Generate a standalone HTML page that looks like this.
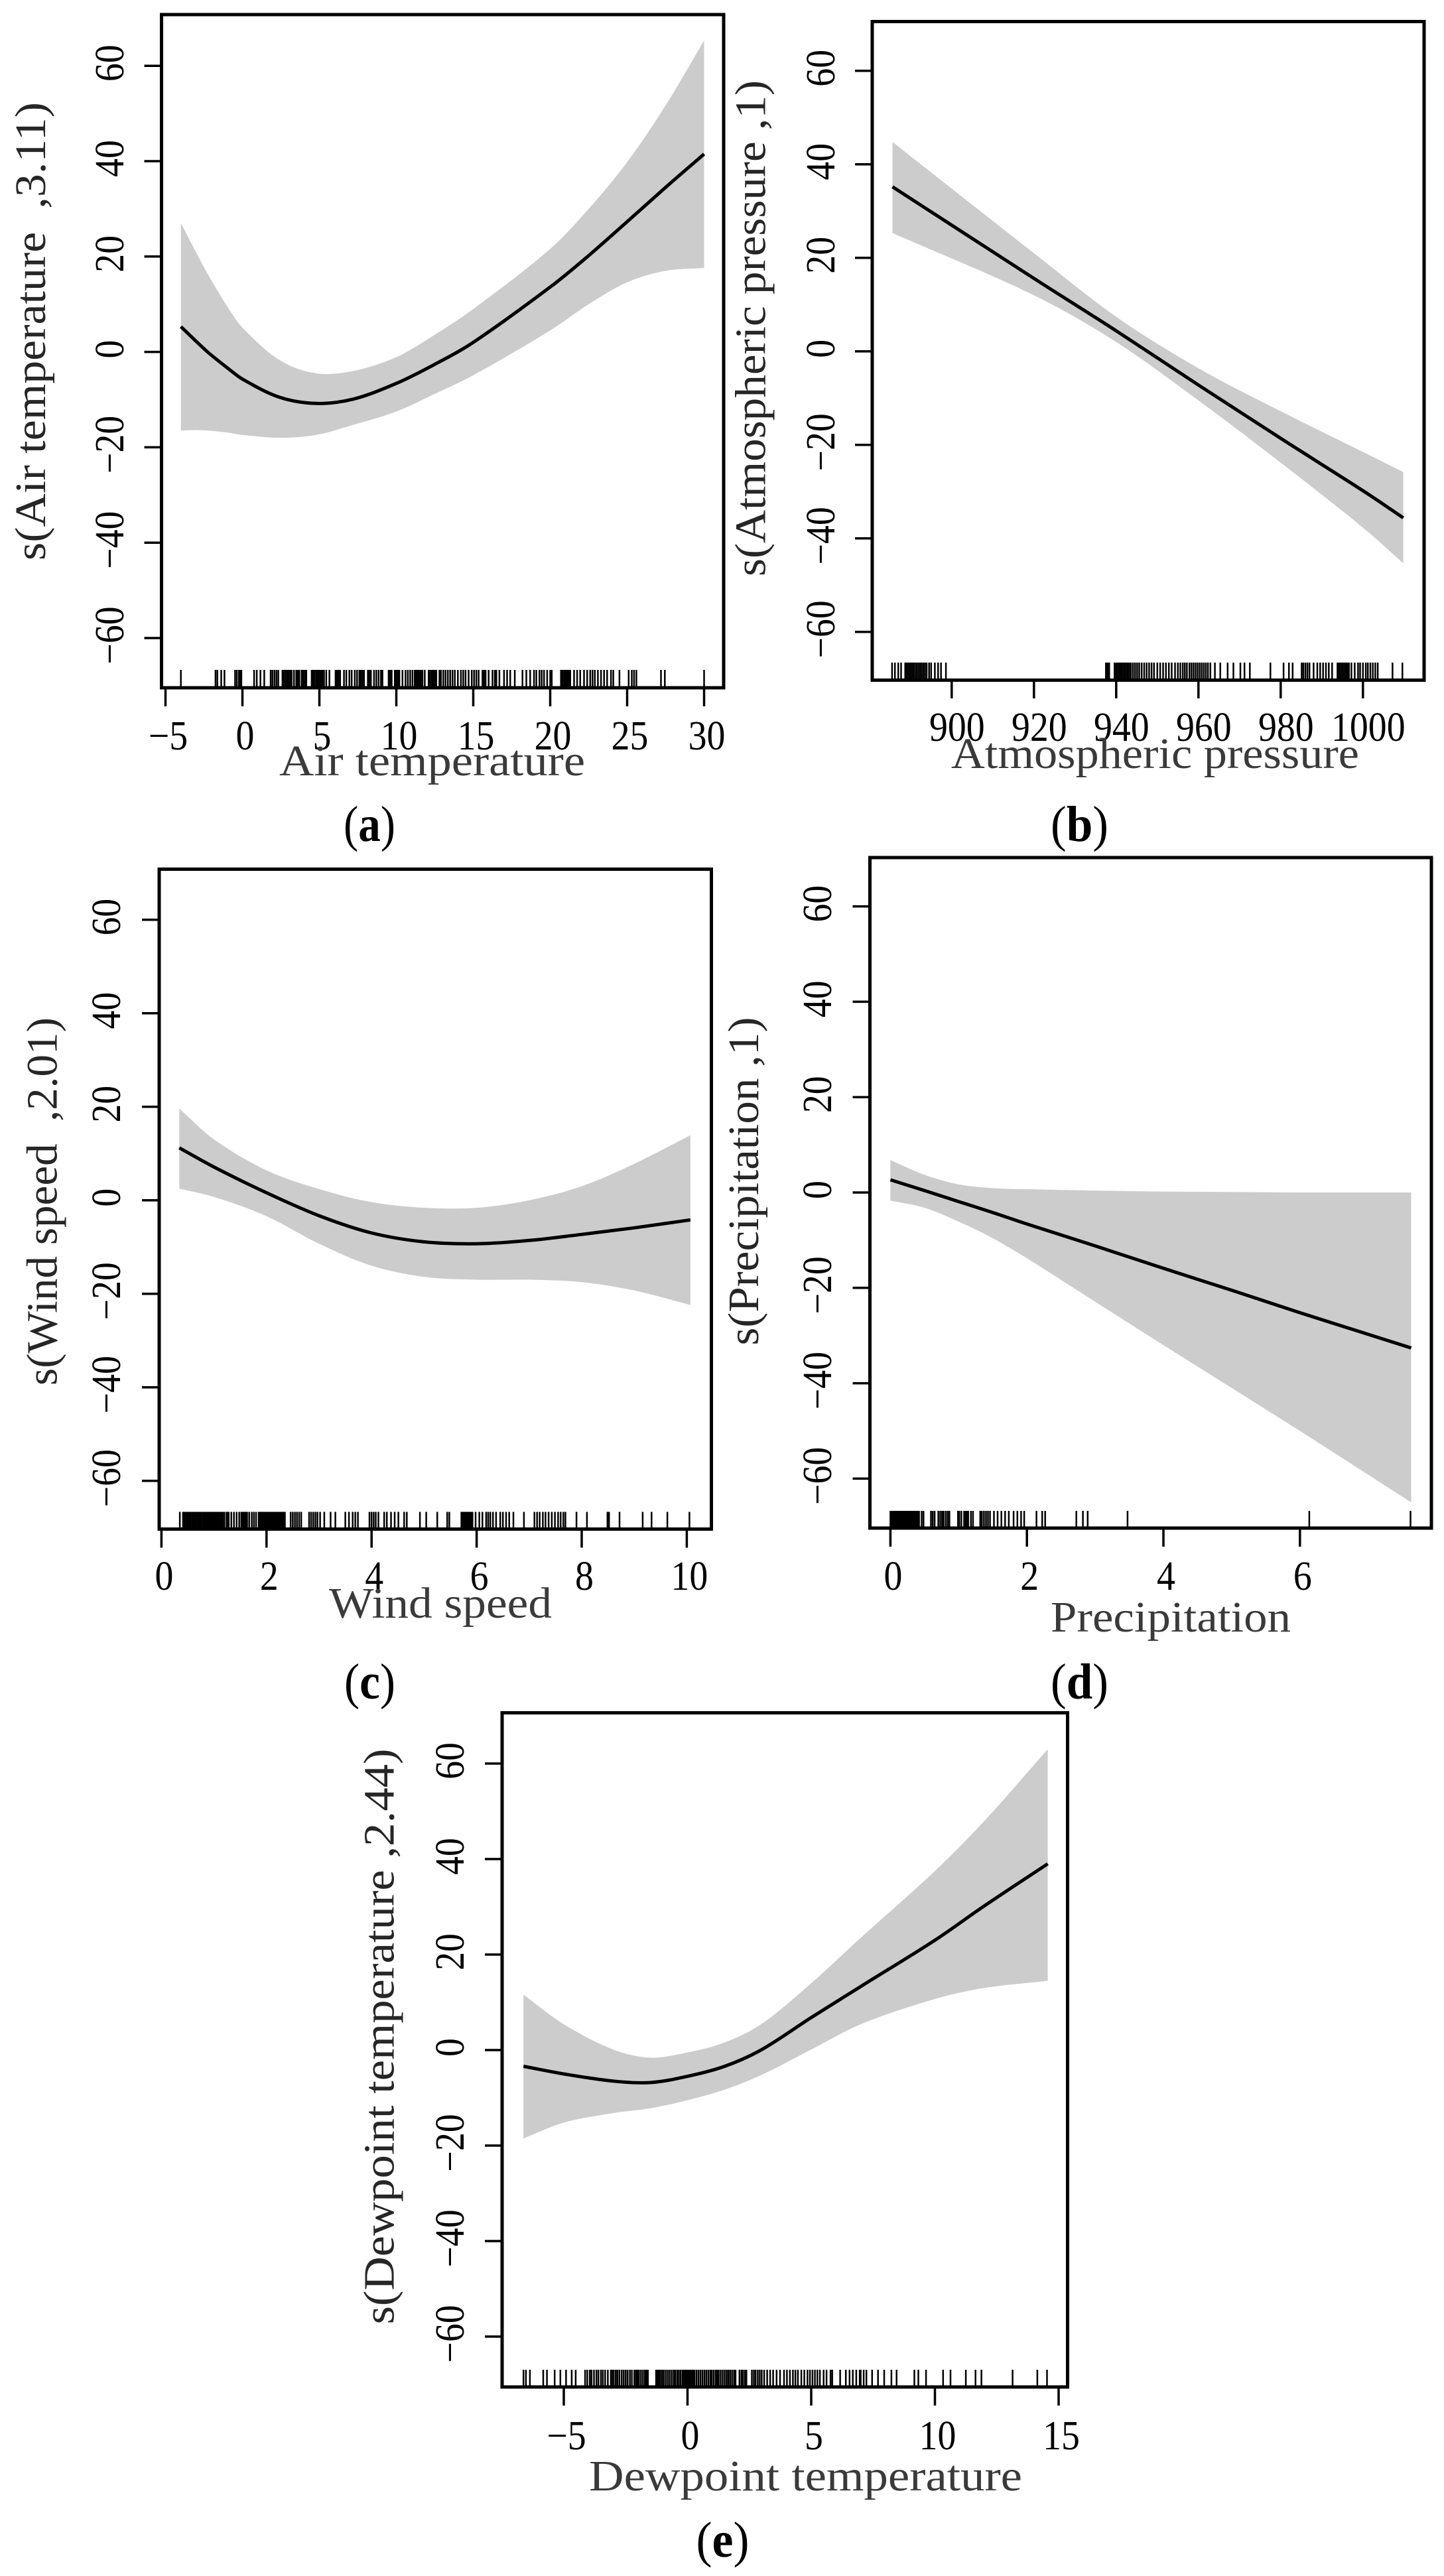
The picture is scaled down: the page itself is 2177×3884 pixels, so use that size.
<!DOCTYPE html>
<html lang="en">
<head>
<meta charset="utf-8">
<title>GAM smooth terms</title>
<style>
html,body{margin:0;padding:0;background:#fff;width:2177px;height:3884px;overflow:hidden}
svg{display:block}
text{font-family:"Liberation Serif","DejaVu Serif",serif}
.title{font-size:66px;fill:#3a3a3a}
.ytitle{font-size:66px;fill:#262626}
.cap{font-size:76px;fill:#000}
.tick-label{font-size:62px;fill:#000;text-anchor:middle}
</style>
</head>
<body>
<svg id="figure" xmlns="http://www.w3.org/2000/svg" width="2177" height="3884" viewBox="0 0 2177 3884">
<rect width="2177" height="3884" fill="#fff"/>

<g>
<g id="marks-a"></g>
<rect x="243.5" y="22" width="847.5" height="1015" fill="none" stroke="#000" stroke-width="5"/>
<text class="ytitle" transform="translate(68,845) rotate(-90)" textLength="691" lengthAdjust="spacingAndGlyphs">s(Air temperature&#160;&#160;,3.11)</text>
<text class="title" x="421" y="1169" textLength="461" lengthAdjust="spacingAndGlyphs">Air temperature</text>
<text class="cap" x="518" y="1268" textLength="78" lengthAdjust="spacingAndGlyphs">(<tspan font-weight="bold">a</tspan>)</text>
</g>

<g>
<g id="marks-b"></g>
<rect x="1315" y="32.5" width="832" height="993" fill="none" stroke="#000" stroke-width="5"/>
<text class="ytitle" transform="translate(1153.5,869) rotate(-90)" textLength="748" lengthAdjust="spacingAndGlyphs">s(Atmospheric pressure ,1)</text>
<text class="title" x="1434" y="1158" textLength="615" lengthAdjust="spacingAndGlyphs">Atmospheric pressure</text>
<text class="cap" x="1584" y="1268" textLength="87" lengthAdjust="spacingAndGlyphs">(<tspan font-weight="bold">b</tspan>)</text>
</g>

<g>
<g id="marks-c"></g>
<rect x="240" y="1310.5" width="832.5" height="995" fill="none" stroke="#000" stroke-width="5"/>
<text class="ytitle" transform="translate(85.5,2089) rotate(-90)" textLength="555" lengthAdjust="spacingAndGlyphs">s(Wind speed&#160;&#160;,2.01)</text>
<text class="title" x="496" y="2439" textLength="336" lengthAdjust="spacingAndGlyphs">Wind speed</text>
<text class="cap" x="519" y="2561" textLength="77" lengthAdjust="spacingAndGlyphs">(<tspan font-weight="bold">c</tspan>)</text>
</g>

<g>
<g id="marks-d"></g>
<rect x="1311.5" y="1293" width="846.5" height="1011" fill="none" stroke="#000" stroke-width="5"/>
<text class="ytitle" transform="translate(1143,2028.5) rotate(-90)" textLength="495" lengthAdjust="spacingAndGlyphs">s(Precipitation ,1)</text>
<text class="title" x="1584" y="2460" textLength="362" lengthAdjust="spacingAndGlyphs">Precipitation</text>
<text class="cap" x="1584" y="2561" textLength="87" lengthAdjust="spacingAndGlyphs">(<tspan font-weight="bold">d</tspan>)</text>
</g>

<g>
<g id="marks-e"></g>
<rect x="757" y="2582.5" width="852.5" height="1016.5" fill="none" stroke="#000" stroke-width="5"/>
<text class="ytitle" transform="translate(593.5,3504.5) rotate(-90)" textLength="868" lengthAdjust="spacingAndGlyphs">s(Dewpoint temperature ,2.44)</text>
<text class="title" x="888" y="3755" textLength="653" lengthAdjust="spacingAndGlyphs">Dewpoint temperature</text>
<text class="cap" x="1049.5" y="3855" textLength="80" lengthAdjust="spacingAndGlyphs">(<tspan font-weight="bold">e</tspan>)</text>
</g>
</svg>

<script>
// ---- shared tick labels
const yTickValues = [-60,-40,-20,0,20,40,60];

// ---- panel a: air temperature
const xTicksA = [-5,0,5,10,15,20,25,30];
const gridA = [-4,-3,-2.2,-1,0,2.4,4.8,7.2,10,12.5,15,20,22.5,25,27.5,30];
const fitA = [5.3,2.2,-0.2,-3.3,-5.7,-9.5,-10.8,-9.9,-6.6,-2.6,2,13.6,20.2,27.3,34.5,41.5];
const upperA = [27,20.8,16,9.6,5.1,-1.7,-4.5,-4,-1.1,3.6,9,21.6,30,39.8,51.7,65.3];
const lowerA = [-16.5,-16.4,-16.5,-16.9,-17.4,-18,-17.4,-15.3,-12.5,-8.8,-4.9,4.5,10,14.6,17,17.6];
const rugA = [-4,-1.75,-1.63,-1.38,-1.17,-0.48,-0.36,-0.23,-0.15,-0.07,0.76,0.93,1.17,1.42,1.83,1.95,2.08,2.21,2.33,2.6,2.7,2.8,2.9,3.0,3.1,3.2,3.35,3.5,3.6,3.7,3.85,3.95,4.05,4.15,4.5,4.6,4.7,4.8,4.9,5.0,5.1,5.2,5.3,5.45,5.65,6.05,6.15,6.25,6.35,6.6,6.75,6.95,7.1,7.3,7.45,7.6,7.7,7.8,7.9,8.15,8.25,8.35,8.55,8.7,8.85,9.0,9.1,9.5,9.6,9.7,9.9,10,10.1,10.2,10.4,10.6,10.75,10.9,11.05,11.2,11.3,11.4,11.5,11.6,11.7,11.85,12.1,12.2,12.3,12.4,12.5,12.6,12.8,12.9,13.05,13.2,13.35,13.5,13.65,13.8,14,14.2,14.35,14.5,14.7,14.9,15.05,15.2,15.35,15.6,15.7,15.8,16,16.25,16.4,16.5,16.7,17.0,17.2,17.4,17.7,18.2,18.45,18.7,18.95,19.1,19.3,19.45,19.6,19.8,20,20.1,20.7,20.8,20.9,21,21.1,21.2,21.3,21.55,21.75,21.95,22.2,22.4,22.6,22.75,22.9,23.1,23.3,23.5,23.7,23.95,24.1,24.5,25.1,25.3,25.45,25.6,27.2,27.45,30];

// ---- panel b: atmospheric pressure
const xTicksB = [900,920,940,960,980,1000];
const gridB = [885.6,920,940,960,980,1000,1009.8];
const fitB = [35.2,15.6,4.4,-7.2,-18.6,-29.8,-35.6];
const upperB = [44.8,21,7.4,-3.6,-12.8,-21.5,-25.8];
const lowerB = [25.3,12,2,-10.5,-23.8,-37.7,-45.3];
const rugB = [885.5,886.2,887,887.7,888.7,889.1,889.5,889.9,890.3,890.7,891.1,891.5,891.9,892.3,892.7,893.1,893.5,893.9,894.5,895,895.9,896.7,897.4,898.6,937.5,937.9,938.3,939.6,940,940.4,940.8,941.2,941.6,942,942.4,942.8,943.2,943.6,944.1,944.6,945.1,945.6,946.2,946.8,947.4,948,948.6,949.2,950,950.7,951.4,952.1,952.8,953.5,954.3,955,955.6,956.2,956.7,957.2,957.8,958.3,958.8,959.3,959.8,960.3,960.8,961.3,961.8,962.3,962.9,964,965.3,967.1,968.5,970.2,971.2,972.5,977.5,980.7,982,982.9,985.1,985.5,986,986.5,987,988,988.9,989.6,990.3,991,991.7,992.5,993.8,994.2,994.6,995,995.4,995.8,996.2,996.6,997.2,998,998.8,999.3,1000,1000.7,1001.2,1001.8,1002.4,1003,1003.6,1007.2,1009.6];

// ---- panel c: wind speed
const xTicksC = [0,2,4,6,8,10];
const gridC = [0.34,1,2,3,4,5,6,7,8,9,10.07];
const fitC = [11.2,7.1,1.6,-3.3,-7,-8.9,-9.3,-8.6,-7.3,-5.9,-4.2];
const upperC = [19.6,13,6.4,2.4,-0.4,-1.6,-1.6,0,3,7.8,13.9];
const lowerC = [2.5,0.7,-3.4,-9.3,-14,-16.4,-17,-17,-17.5,-19.3,-22.4];
const rugC = [0.35,0.41,0.43,0.44,0.47,0.49,0.51,0.53,0.55,0.58,0.6,0.62,0.64,0.66,0.69,0.71,0.73,0.75,0.77,0.8,0.83,0.85,0.87,0.9,0.92,0.94,0.97,0.99,1.01,1.03,1.05,1.07,1.09,1.11,1.13,1.15,1.17,1.2,1.24,1.26,1.28,1.33,1.38,1.43,1.48,1.52,1.55,1.57,1.59,1.61,1.63,1.67,1.72,1.76,1.8,1.85,1.87,1.89,1.91,1.93,1.95,1.97,1.99,2.01,2.03,2.05,2.07,2.09,2.11,2.13,2.15,2.17,2.2,2.22,2.24,2.27,2.29,2.31,2.33,2.35,2.46,2.5,2.54,2.58,2.62,2.66,2.81,2.85,2.89,2.93,2.97,3.02,3.1,3.22,3.31,3.5,3.57,3.64,3.69,3.74,3.96,4,4.04,4.08,4.13,4.24,4.29,4.37,4.44,4.51,4.62,4.67,4.92,5.04,5.25,5.44,5.48,5.71,5.73,5.75,5.78,5.8,5.82,5.84,5.86,5.88,5.9,5.92,5.98,6.05,6.11,6.18,6.22,6.26,6.31,6.37,6.45,6.5,6.56,6.62,6.7,6.9,7.1,7.15,7.2,7.26,7.31,7.37,7.43,7.49,7.55,7.6,7.65,7.69,7.9,8.1,8.49,8.52,8.72,9.16,9.33,9.63,10.05];

// ---- panel d: precipitation
const xTicksD = [0,2,4,6];
const gridD = [0,0.5,1,1.5,2,3,4,5,6,7.63];
const fitD = [2.65,0.4,-1.9,-4.2,-6.6,-11.2,-15.9,-20.5,-25.2,-32.6];
const upperD = [6.8,3.7,1.7,0.9,0.7,0.4,0.2,0.1,0,0];
const lowerD = [-1.7,-3.2,-6.1,-9.6,-13.8,-22.9,-32,-41,-50,-65];
const rugD = [0,0.02,0.04,0.06,0.08,0.1,0.12,0.14,0.16,0.18,0.2,0.22,0.24,0.26,0.28,0.3,0.32,0.34,0.36,0.38,0.4,0.42,0.458,0.485,0.594,0.62,0.648,0.702,0.73,0.757,0.78,0.811,0.84,0.865,0.99,1.01,1.04,1.08,1.1,1.12,1.14,1.18,1.21,1.316,1.34,1.37,1.4,1.43,1.46,1.517,1.57,1.626,1.68,1.735,1.805,1.86,1.914,1.96,2.14,2.224,2.267,2.724,2.82,2.89,3.474,6.137,7.62];

// ---- panel e: dewpoint temperature
const xTicksE = [-5,0,5,10,15];
const gridE = [-6.63,-5,-3,-1.5,0,1.5,3,5,7,10,12,14.56];
const fitE = [-3.4,-5,-6.5,-6.8,-5.5,-3.4,0.1,6.8,13.3,23,30.2,39];
const upperE = [11.6,5.4,0.1,-1.6,-0.5,1.6,5.5,14,23.5,37.5,48,63];
const lowerE = [-18.5,-15.2,-13.2,-12.2,-10.5,-8.3,-5.2,0.1,5.4,10.7,13,14.5];
const rugE = [-6.63,-6.53,-6.37,-5.83,-5.68,-5.37,-5.14,-4.91,-4.68,-4.52,-4.14,-4.05,-3.95,-3.88,-3.78,-3.68,-3.6,-3.5,-3.42,-3.33,-3.22,-3.1,-3.05,-2.98,-2.9,-2.83,-2.75,-2.66,-2.58,-2.5,-2.42,-2.33,-2.25,-2.15,-2.08,-2.02,-1.96,-1.88,-1.8,-1.72,-1.66,-1.6,-1.27,-1.22,-1.16,-1.1,-1.03,-0.96,-0.88,-0.8,-0.72,-0.64,-0.56,-0.5,-0.42,-0.35,-0.28,-0.2,-0.14,-0.08,-0.02,0.04,0.1,0.16,0.22,0.28,0.36,0.44,0.52,0.6,0.68,0.76,0.84,0.92,0.98,1.06,1.14,1.2,1.26,1.34,1.42,1.5,1.58,1.65,1.72,1.8,1.88,1.94,2.1,2.18,2.24,2.32,2.38,2.6,2.68,2.75,2.84,2.92,3.0,3.1,3.22,3.34,3.46,3.6,3.74,3.9,4.02,4.14,4.26,4.36,4.46,4.6,4.72,4.85,4.95,5.05,5.15,5.25,5.35,5.5,5.62,5.78,5.85,6.17,6.4,6.55,6.68,6.82,6.96,7.0,7.12,7.23,7.46,7.7,7.95,8.24,8.45,9.17,9.33,9.64,10.33,10.63,11.25,11.64,11.88,13.14,14.14,14.53];

// ---- axis layouts (pixel geometry only)
const layoutA = {key:'a',x0:365.5,xPer:23.2,y0:530.6,yPer:7.19,axisY:1037,axisX:243.5,rugLen:27,xLabelY:1130,yLabelX:186};
const layoutB = {key:'b',x0:1434.8,xPer:6.2,x0Value:900,y0:529.8,yPer:7.05,axisY:1025,axisX:1315,rugLen:26,xLabelY:1117,yLabelX:1258,xLabelShift:8};
const layoutC = {key:'c',x0:243.4,xPer:79.2,y0:1809.7,yPer:7.05,axisY:2305.5,axisX:240,rugLen:26,xLabelY:2397,yLabelX:181};
const layoutD = {key:'d',x0:1342.4,xPer:102.9,y0:1798,yPer:7.19,axisY:2304,axisX:1311.5,rugLen:26,xLabelY:2397,yLabelX:1253};
const layoutE = {key:'e',x0:1036.5,xPer:37.3,y0:3091,yPer:7.2,axisY:3599,axisX:757,rugLen:26,xLabelY:3693,yLabelX:699};

const SVG_NS = 'http://www.w3.org/2000/svg';

function curve(pts, move) {
  let d = (move ? 'M' : 'L') + pts[0][0].toFixed(1) + ' ' + pts[0][1].toFixed(1);
  for (let i = 0; i < pts.length - 1; i++) {
    const p0 = pts[Math.max(i - 1, 0)], p1 = pts[i], p2 = pts[i + 1], p3 = pts[Math.min(i + 2, pts.length - 1)];
    const m1 = (p2[1] - p0[1]) / (p2[0] - p0[0]);
    const m2 = (p3[1] - p1[1]) / (p3[0] - p1[0]);
    const h = (p2[0] - p1[0]) / 3;
    d += 'C' + (p1[0] + h).toFixed(1) + ' ' + (p1[1] + m1 * h).toFixed(1) + ' ' +
         (p2[0] - h).toFixed(1) + ' ' + (p2[1] - m2 * h).toFixed(1) + ' ' +
         p2[0].toFixed(1) + ' ' + p2[1].toFixed(1);
  }
  return d;
}

function drawPanel(layout, xTicks, yTicks, grid, fit, upper, lower, rug) {
  const root = document.getElementById('marks-' + layout.key);
  const base = layout.x0Value || 0;
  const sx = v => layout.x0 + (v - base) * layout.xPer;
  const sy = v => layout.y0 - v * layout.yPer;

  const upPts = grid.map((v, i) => [sx(v), sy(upper[i])]);
  const lowPts = grid.map((v, i) => [sx(v), sy(lower[i])]).reverse();
  const fitPts = grid.map((v, i) => [sx(v), sy(fit[i])]);

  const band = document.createElementNS(SVG_NS, 'path');
  
  
  band.setAttribute('d', curve(upPts, true) + curve(lowPts, false) + 'Z');
  band.setAttribute('fill', '#cccccc');
  root.appendChild(band);

  const line = document.createElementNS(SVG_NS, 'path');
  
  
  line.setAttribute('d', curve(fitPts, true));
  line.setAttribute('fill', 'none');
  line.setAttribute('stroke', '#000');
  line.setAttribute('stroke-width', '5');
  root.appendChild(line);

  rug.forEach(v => {
    const r = document.createElementNS(SVG_NS, 'line');
    
    
    r.setAttribute('x1', sx(v).toFixed(1));
    r.setAttribute('x2', sx(v).toFixed(1));
    r.setAttribute('y1', layout.axisY - layout.rugLen);
    r.setAttribute('y2', layout.axisY);
    r.setAttribute('stroke', '#000');
    r.setAttribute('stroke-width', '2.5');
    root.appendChild(r);
  });

  xTicks.forEach(v => {
    const t = document.createElementNS(SVG_NS, 'line');
    
    
    t.setAttribute('x1', sx(v).toFixed(1));
    t.setAttribute('x2', sx(v).toFixed(1));
    t.setAttribute('y1', layout.axisY);
    t.setAttribute('y2', layout.axisY + 28);
    t.setAttribute('stroke', '#000');
    t.setAttribute('stroke-width', '3.5');
    root.appendChild(t);

    const label = document.createElementNS(SVG_NS, 'text');
    
    
    label.setAttribute('class', 'tick-label');
    const shift = layout.xLabelShift || 4;
    label.setAttribute('transform', 'translate(' + (sx(v) + shift).toFixed(1) + ',' + layout.xLabelY + ') scale(.9,1)');
    label.textContent = String(v).replace('-', '\u2212');
    root.appendChild(label);
  });

  yTicks.forEach(v => {
    const t = document.createElementNS(SVG_NS, 'line');
    
    
    t.setAttribute('x1', layout.axisX - 26);
    t.setAttribute('x2', layout.axisX);
    t.setAttribute('y1', sy(v).toFixed(1));
    t.setAttribute('y2', sy(v).toFixed(1));
    t.setAttribute('stroke', '#000');
    t.setAttribute('stroke-width', '3.5');
    root.appendChild(t);

    const label = document.createElementNS(SVG_NS, 'text');
    
    
    label.setAttribute('class', 'tick-label');
    label.setAttribute('transform', 'translate(' + layout.yLabelX + ',' + (sy(v) - 4).toFixed(1) + ') rotate(-90) scale(.9,1)');
    label.textContent = String(v).replace('-', '\u2212');
    root.appendChild(label);
  });
}

drawPanel(layoutA, xTicksA, yTickValues, gridA, fitA, upperA, lowerA, rugA);
drawPanel(layoutB, xTicksB, yTickValues, gridB, fitB, upperB, lowerB, rugB);
drawPanel(layoutC, xTicksC, yTickValues, gridC, fitC, upperC, lowerC, rugC);
drawPanel(layoutD, xTicksD, yTickValues, gridD, fitD, upperD, lowerD, rugD);
drawPanel(layoutE, xTicksE, yTickValues, gridE, fitE, upperE, lowerE, rugE);
</script>
</body>
</html>
